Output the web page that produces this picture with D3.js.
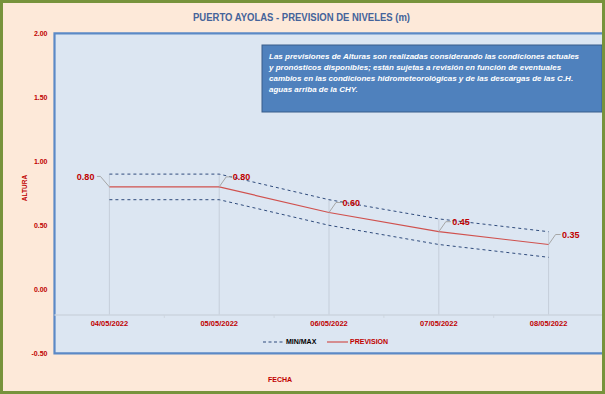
<!DOCTYPE html>
<html>
  <head>
    <meta charset="utf-8">
    <title>Puerto Ayolas - prevision de niveles</title>
    <script src="https://d3js.org/d3.v7.min.js"></script>
    <style>
      body { margin: 0; background: #fff; }
      svg { display: block; font-family: "Liberation Sans", Arial, sans-serif; }
    </style>
  </head>
  <body>
    <svg id="chart" width="605" height="394"></svg>
    <script>
      // data
      const fechas = ["04/05/2022", "05/05/2022", "06/05/2022", "07/05/2022", "08/05/2022"];
      const prevision = [0.80, 0.80, 0.60, 0.45, 0.35];
      const maximo = [0.90, 0.90, 0.70, 0.55, 0.45];
      const minimo = [0.70, 0.70, 0.50, 0.35, 0.25];
      const yTicks = [-0.5, 0, 0.5, 1, 1.5, 2];
      const titulo = "PUERTO AYOLAS - PREVISION DE NIVELES (m)";
      const nota = [
        "Las previsiones de Alturas son realizadas considerando las condiciones actuales",
        "y pronósticos disponibles;  están sujetas a revisión en función de eventuales",
        "cambios en las condiciones hidrometeorológicas y de las descargas de las C.H.",
        "aguas arriba de la CHY."
      ];

      const red = "#C00000";
      const chart = d3.select("#chart");

      // frame
      chart.append("rect")
        .attr("x", 1.5).attr("y", 1.5).attr("width", 602).attr("height", 391)
        .style("fill", "#FDE9D9");

      const plot = { left: 54.5, right: 604, top: 33.3, bottom: 353.3 };
      const y = d3.scaleLinear().domain([-0.5, 2]).range([plot.bottom, plot.top]);
      const x = d3.scaleBand().domain(fechas).range([plot.left, 603.5]);
      const cx = d => x(d) + x.bandwidth() / 2;
      const axisY = y(-0.2);

      chart.append("rect")
        .attr("x", plot.left).attr("y", plot.top)
        .attr("width", plot.right - plot.left).attr("height", plot.bottom - plot.top)
        .style("fill", "#DCE6F2");
      chart.append("path")
        .attr("d", "M" + plot.right + "," + plot.top + "H" + plot.left + "V" + plot.bottom + "H" + plot.right)
        .style("fill", "none").style("stroke", "#5B89C6").style("stroke-width", 2.2);

      // title
      const title = chart.append("text")
        .attr("x", 301.5).attr("y", 21)
        .attr("text-anchor", "middle")
        .style("font-size", "11.5px").style("font-weight", "bold").style("fill", "#44639A")
        .text(titulo);
      fit(title, 217);

      // y axis
      const yAxis = d3.axisLeft(y).tickValues(yTicks).tickSize(0).tickPadding(7)
        .tickFormat(d => d.toFixed(2));
      chart.append("g")
        .attr("transform", "translate(" + plot.left + ",0)")
        .call(yAxis)
        .call(g => g.select(".domain").remove())
        .selectAll("text")
          .style("font-family", "Liberation Sans, Arial, sans-serif")
          .style("font-size", "7px").style("font-weight", "bold").style("fill", red);

      chart.append("text")
        .attr("transform", "translate(27,188) rotate(-90)")
        .attr("text-anchor", "middle")
        .style("font-size", "6.5px").style("font-weight", "bold").style("fill", red)
        .text("ALTURA");

      // drop lines from max series down to the category axis
      chart.append("g").selectAll("line")
        .data(fechas)
        .join("line")
          .attr("x1", cx).attr("x2", cx)
          .attr("y1", (d, i) => y(maximo[i])).attr("y2", axisY)
          .style("stroke", "#C5CEDA").style("stroke-width", 1);

      // x axis
      const xAxis = d3.axisBottom(x).tickSize(0).tickPadding(6);
      const xg = chart.append("g")
        .attr("transform", "translate(0," + axisY + ")")
        .call(xAxis);
      xg.select(".domain")
        .attr("d", "M" + plot.left + ",0H" + plot.right)
        .style("stroke", "#CDD5DF").style("stroke-width", 1.5);
      xg.selectAll("text")
        .style("font-family", "Liberation Sans, Arial, sans-serif")
        .style("font-size", "7.5px").style("font-weight", "bold").style("fill", red);
      xg.selectAll(".sep")
        .data(fechas.slice(1))
        .join("line")
          .attr("class", "sep")
          .attr("x1", d => x(d)).attr("x2", d => x(d))
          .attr("y1", 0).attr("y2", 3)
          .style("stroke", "#CDD5DF");

      // series
      const line = d3.line().x((d, i) => cx(fechas[i])).y(d => y(d));
      [maximo, minimo].forEach(s => {
        chart.append("path")
          .attr("d", line(s))
          .style("fill", "none").style("stroke", "#2F4B7C")
          .style("stroke-width", 1).style("stroke-dasharray", "3,3");
      });
      chart.append("path")
        .attr("d", line(prevision))
        .style("fill", "none").style("stroke", "#D0514E").style("stroke-width", 1.2);

      // data labels with leader lines
      const labels = chart.append("g").selectAll("g")
        .data(prevision)
        .join("g")
          .attr("transform", (d, i) => "translate(" + cx(fechas[i]) + "," + y(d) + ")");
      labels.append("path")
        .attr("d", (d, i) => i === 0 ? "M0,0L-9,-10.5H-12.5" : "M0,0L7,-10H12")
        .style("fill", "none").style("stroke", "#A6A6A6").style("stroke-width", 1);
      labels.append("text")
        .attr("x", (d, i) => i === 0 ? -15 : 13.5)
        .attr("y", -10).attr("dy", "0.35em")
        .attr("text-anchor", (d, i) => i === 0 ? "end" : "start")
        .style("font-size", "9px").style("font-weight", "bold").style("fill", red)
        .text(d => d.toFixed(2));

      // note box
      chart.append("rect")
        .attr("x", 262).attr("y", 45).attr("width", 340).attr("height", 67)
        .style("fill", "#4F81BD").style("stroke", "#385D8A").style("stroke-width", 1);
      const notaG = chart.append("g");
      const notaTxt = notaG.selectAll("text")
        .data(nota)
        .join("text")
          .attr("x", 269).attr("y", (d, i) => 58.5 + i * 11.2)
          .style("font-size", "8px").style("font-weight", "bold").style("font-style", "italic")
          .style("fill", "#fff")
          .text(d => d);
      const ratio = 324 / notaTxt.node().getComputedTextLength();
      if (ratio < 1) {
        notaTxt.each(function() {
          d3.select(this)
            .attr("textLength", this.getComputedTextLength() * ratio)
            .attr("lengthAdjust", "spacingAndGlyphs");
        });
      }

      // legend
      const leg = chart.append("g").attr("transform", "translate(0,342)");
      leg.append("line").attr("x1", 263).attr("x2", 283)
        .style("stroke", "#2F4B7C").style("stroke-dasharray", "3,2.5");
      leg.append("text").attr("x", 286).attr("dy", "0.35em")
        .style("font-size", "7px").style("font-weight", "bold").style("fill", "#000")
        .text("MIN/MAX");
      leg.append("line").attr("x1", 327).attr("x2", 348)
        .style("stroke", "#D0514E").style("stroke-width", 1.2);
      leg.append("text").attr("x", 350).attr("dy", "0.35em")
        .style("font-size", "7px").style("font-weight", "bold").style("fill", red)
        .text("PREVISION");

      chart.append("text")
        .attr("x", 280).attr("y", 379.5).attr("dy", "0.35em")
        .attr("text-anchor", "middle")
        .style("font-size", "7px").style("font-weight", "bold").style("fill", red)
        .text("FECHA");

      // green border on top
      chart.append("rect")
        .attr("x", 1.5).attr("y", 1.5).attr("width", 602).attr("height", 391)
        .style("fill", "none").style("stroke", "#77933C").style("stroke-width", 3);

      function fit(sel, w) {
        const n = sel.node().getComputedTextLength();
        if (n > w) sel.attr("textLength", w).attr("lengthAdjust", "spacingAndGlyphs");
      }
    </script>
  </body>
</html>
